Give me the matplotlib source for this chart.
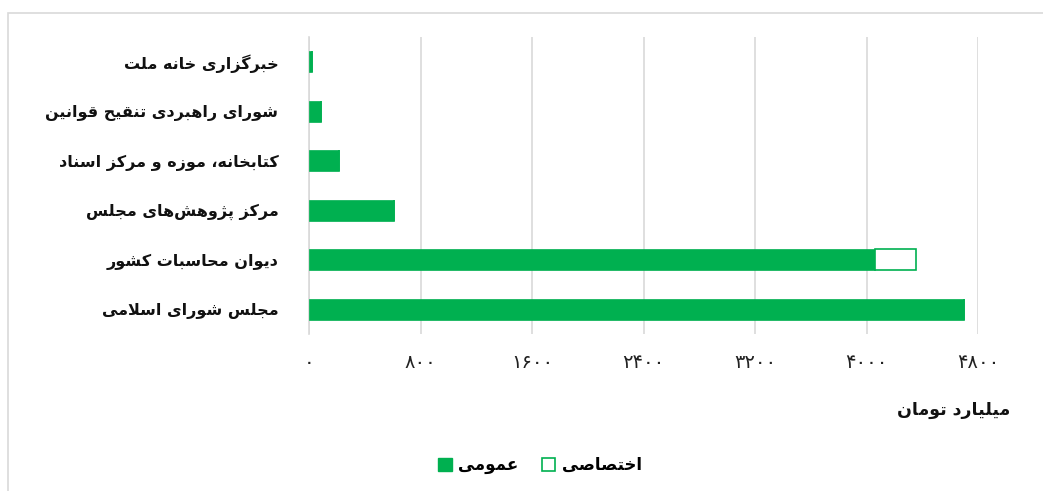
import matplotlib

matplotlib.use("Agg")
import matplotlib.pyplot as plt
from matplotlib.patches import Patch, Rectangle

# data (bottom to top)
categories = [
    "مجلس شورای اسلامی",
    "دیوان محاسبات کشور",
    "مرکز پژوهش\u200cهای مجلس",
    "کتابخانه، موزه و مرکز اسناد",
    "شورای راهبردی تنقیح قوانین",
    "خبرگزاری خانه ملت",
]
general = [4700, 4060, 610, 215, 85, 22]
dedicated = [0, 295, 0, 0, 0, 0]
x_ticks = [0, 800, 1600, 2400, 3200, 4000, 4800]
x_label = "میلیارد تومان"
legend_labels = ["عمومی", "اختصاصی"]

GREEN = "#00B050"

# simple persian shaping: (isolated, final, initial, medial)
FORMS = {
    "ا": (0xFE8D, 0xFE8E, None, None),
    "ب": (0xFE8F, 0xFE90, 0xFE91, 0xFE92),
    "پ": (0xFB56, 0xFB57, 0xFB58, 0xFB59),
    "ت": (0xFE95, 0xFE96, 0xFE97, 0xFE98),
    "ث": (0xFE99, 0xFE9A, 0xFE9B, 0xFE9C),
    "ج": (0xFE9D, 0xFE9E, 0xFE9F, 0xFEA0),
    "چ": (0xFB7A, 0xFB7B, 0xFB7C, 0xFB7D),
    "ح": (0xFEA1, 0xFEA2, 0xFEA3, 0xFEA4),
    "خ": (0xFEA5, 0xFEA6, 0xFEA7, 0xFEA8),
    "د": (0xFEA9, 0xFEAA, None, None),
    "ذ": (0xFEAB, 0xFEAC, None, None),
    "ر": (0xFEAD, 0xFEAE, None, None),
    "ز": (0xFEAF, 0xFEB0, None, None),
    "ژ": (0xFB8A, 0xFB8B, None, None),
    "س": (0xFEB1, 0xFEB2, 0xFEB3, 0xFEB4),
    "ش": (0xFEB5, 0xFEB6, 0xFEB7, 0xFEB8),
    "ص": (0xFEB9, 0xFEBA, 0xFEBB, 0xFEBC),
    "ض": (0xFEBD, 0xFEBE, 0xFEBF, 0xFEC0),
    "ط": (0xFEC1, 0xFEC2, 0xFEC3, 0xFEC4),
    "ظ": (0xFEC5, 0xFEC6, 0xFEC7, 0xFEC8),
    "ع": (0xFEC9, 0xFECA, 0xFECB, 0xFECC),
    "غ": (0xFECD, 0xFECE, 0xFECF, 0xFED0),
    "ف": (0xFED1, 0xFED2, 0xFED3, 0xFED4),
    "ق": (0xFED5, 0xFED6, 0xFED7, 0xFED8),
    "ک": (0xFB8E, 0xFB8F, 0xFB90, 0xFB91),
    "گ": (0xFB92, 0xFB93, 0xFB94, 0xFB95),
    "ل": (0xFEDD, 0xFEDE, 0xFEDF, 0xFEE0),
    "م": (0xFEE1, 0xFEE2, 0xFEE3, 0xFEE4),
    "ن": (0xFEE5, 0xFEE6, 0xFEE7, 0xFEE8),
    "و": (0xFEED, 0xFEEE, None, None),
    "ه": (0xFEE9, 0xFEEA, 0xFEEB, 0xFEEC),
    "ی": (0xFBFC, 0xFBFD, 0xFBFE, 0xFBFF),
}


def shape(text):
    chars = list(text)
    out = []
    i = 0
    n = len(chars)
    while i < n:
        ch = chars[i]
        if ch not in FORMS:
            if ch != "\u200c":
                out.append(ch)
            i += 1
            continue
        prev = chars[i - 1] if i > 0 else None
        joins_prev = prev in FORMS and FORMS[prev][2] is not None
        # lam-alef ligature
        if ch == "ل" and i + 1 < n and chars[i + 1] == "ا":
            out.append(chr(0xFEFC if joins_prev else 0xFEFB))
            i += 2
            continue
        nxt = chars[i + 1] if i + 1 < n else None
        joins_next = FORMS[ch][2] is not None and nxt in FORMS
        iso, fin, ini, med = FORMS[ch]
        if joins_prev and joins_next:
            code = med
        elif joins_prev:
            code = fin
        elif joins_next:
            code = ini
        else:
            code = iso
        out.append(chr(code))
        i += 1
    return "".join(reversed(out))


def fa_digits(value):
    return str(value).translate(str.maketrans("0123456789", "۰۱۲۳۴۵۶۷۸۹"))


plt.rcParams["font.family"] = ["DejaVu Sans"]

fig = plt.figure(figsize=(10.43, 4.91), dpi=100)
ax = fig.add_axes([309 / 1043, 1 - 334 / 491, 669 / 1043, 297 / 491])

# chart border
fig.add_artist(
    Rectangle((8 / 1043, -0.1), 1.2, 1 - 13 / 491 + 0.1, transform=fig.transFigure,
              facecolor="none", edgecolor="#d9d9d9", linewidth=1.2)
)

y = list(range(len(categories)))
bar_h = 0.43
ax.barh(y, general, height=bar_h, color=GREEN, edgecolor=GREEN, linewidth=0.5, zorder=3)
ax.barh(y, dedicated, left=general, height=bar_h, color="white", edgecolor=GREEN,
        linewidth=1.2, zorder=3)

ax.set_xlim(0, 4800)
ax.set_ylim(-0.5, len(categories) - 0.5)
ax.set_xticks(x_ticks)
ax.set_xticklabels([fa_digits(v) for v in x_ticks], fontsize=14, color="#222222")
ax.set_yticks(y)
ax.set_yticklabels([shape(c) for c in categories], fontsize=11.5, fontweight="bold", color="#111111")
ax.tick_params(axis="x", length=0, pad=14)
ax.tick_params(axis="y", length=0, pad=22)
ax.grid(axis="x", color="#d9d9d9", linewidth=1.2, zorder=0)
for side in ["top", "right", "bottom"]:
    ax.spines[side].set_visible(False)
ax.spines["left"].set_color("#d9d9d9")
ax.spines["left"].set_linewidth(1.2)

fig.text(1010 / 1043, 1 - 410 / 491, shape(x_label), ha="right", va="center",
         fontsize=12.5, fontweight="bold", color="#111111")

handles = [
    Patch(facecolor=GREEN, edgecolor=GREEN),
    Patch(facecolor="white", edgecolor=GREEN, linewidth=1.2),
]
fig.legend(handles, [shape(t) for t in legend_labels], loc="center",
           bbox_to_anchor=(540 / 1043, 1 - 465 / 491), ncol=2, frameon=False,
           prop={"size": 12, "weight": "bold"}, handlelength=0.8, handleheight=0.8,
           handletextpad=0.4, columnspacing=1.4)

fig.savefig("out.png", dpi=100)
